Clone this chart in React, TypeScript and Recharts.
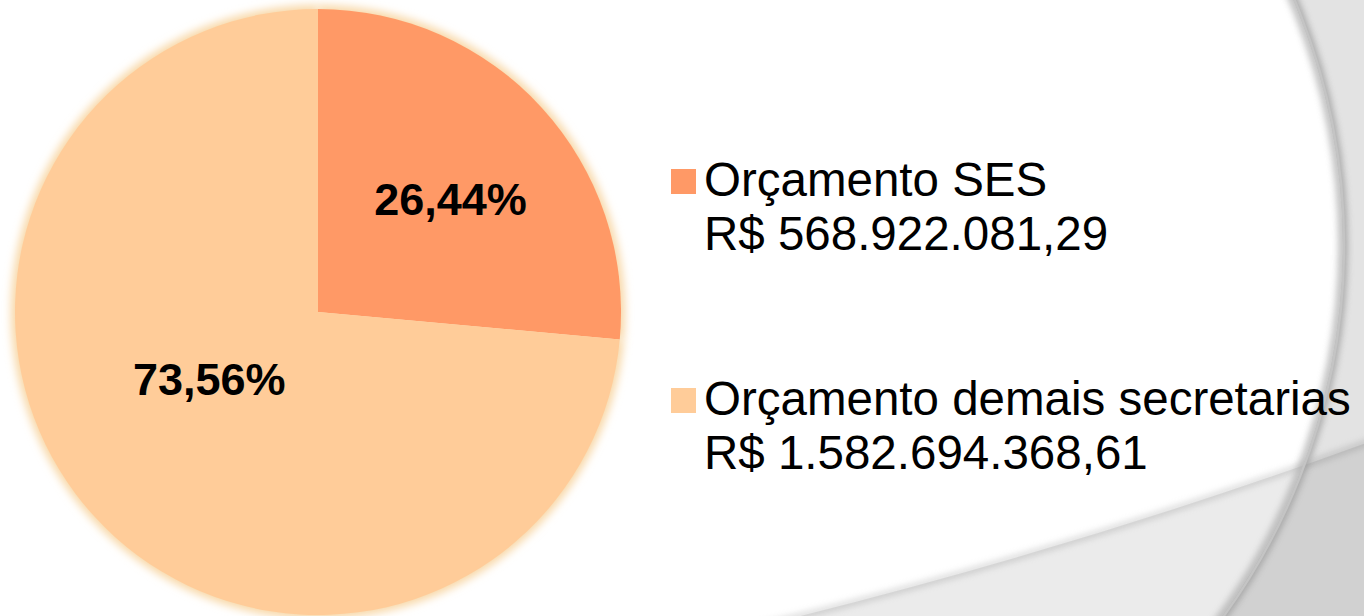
import React from 'react';
import { PieChart, Pie, Cell, Legend } from 'recharts';

const categories = ['Orçamento SES', 'Orçamento demais secretarias'];
const budgetValues = [568922081.29, 1582694368.61];
const valueLabels = ['R$ 568.922.081,29', 'R$ 1.582.694.368,61'];
const sliceColors = ['#FF9966', '#FFCC99'];

const data = categories.map((name, i) => ({ name, value: budgetValues[i] }));

const W = 1364;
const H = 616;
const labelRadiusFactor = [0.57, 0.45];
const labelOffsets = [
  [5, 4],
  [-8, -24],
];

const renderLabel = (props: any) => {
  const { cx, cy, midAngle, outerRadius, percent, index } = props;
  const RAD = Math.PI / 180;
  const r = outerRadius * labelRadiusFactor[index];
  const x = cx + r * Math.cos(-midAngle * RAD) + labelOffsets[index][0];
  const y = cy + r * Math.sin(-midAngle * RAD) + labelOffsets[index][1];
  const txt = (percent * 100).toFixed(2).replace('.', ',') + '%';
  return (
    <text
      x={x}
      y={y}
      textAnchor="middle"
      dominantBaseline="central"
      fill="#000"
      fontFamily="'Liberation Sans', Arial, sans-serif"
      fontWeight="bold"
      fontSize={45}
    >
      {txt}
    </text>
  );
};

const renderLegend = (props: any) => {
  const payload = (props.payload || []).filter((p: any) => p.type !== 'none');
  return (
    <div style={{ fontFamily: "'Liberation Sans', Arial, sans-serif", fontSize: 47.5, lineHeight: '54px', color: '#000' }}>
      {payload.map((entry: any, i: number) => (
        <div key={i} style={{ display: 'flex', alignItems: 'flex-start', marginBottom: i === 0 ? 111 : 0 }}>
          <div style={{ width: 25, height: 25, background: entry.color, marginTop: 16, marginRight: 8, flex: 'none' }} />
          <div style={{ whiteSpace: 'nowrap' }}>
            <div>{entry.value}</div>
            <div>{valueLabels[i]}</div>
          </div>
        </div>
      ))}
    </div>
  );
};

const Background = () => (
  <svg width={W} height={H} style={{ position: 'absolute', left: 0, top: 0 }}>
    <defs>
      <filter id="pieGlow" x="-10%" y="-10%" width="120%" height="120%">
        <feGaussianBlur stdDeviation="4" />
      </filter>
      <filter id="edgeBlur" x="-20%" y="-20%" width="140%" height="140%">
        <feGaussianBlur stdDeviation="3" />
      </filter>
      <clipPath id="rightSide">
        <rect x={900} y={0} width={W - 900} height={H} />
      </clipPath>
      <clipPath id="outsideCircle">
        <path
          fillRule="evenodd"
          d={`M900 0 H${W} V${H} H900 Z M${712 - 631} 245 a631 631 0 1 0 1262 0 a631 631 0 1 0 -1262 0 Z`}
        />
      </clipPath>
    </defs>
    <rect x={0} y={0} width={W} height={H} fill="#ffffff" />
    <path d={`M760 ${H + 10} Q1080 548 ${W + 10} 440`} fill="none" stroke="#c4c4c4" strokeWidth={6} filter="url(#edgeBlur)" opacity={0.6} />
    <path d={`M760 ${H + 10} Q1080 548 ${W + 10} 440 L${W + 10} ${H + 10} Z`} fill="rgba(0,0,0,0.08)" />
    <g clipPath="url(#rightSide)">
      <circle cx={712} cy={245} r={631} fill="none" stroke="#aaaaaa" strokeWidth={10} filter="url(#edgeBlur)" opacity={0.7} />
    </g>
    <rect x={900} y={0} width={W - 900} height={H} fill="rgba(0,0,0,0.11)" clipPath="url(#outsideCircle)" />
    <g clipPath="url(#rightSide)">
      <circle cx={712} cy={245} r={632} fill="none" stroke="#c4c4c4" strokeWidth={2.5} />
    </g>
  </svg>
);

export default function App() {
  return (
    <div style={{ position: 'absolute', left: 0, top: 0, width: W, height: H, overflow: 'hidden', background: '#fff' }}>
      <Background />
      <div style={{ position: 'absolute', left: 0, top: 0 }}>
        <PieChart width={W} height={H} margin={{ top: 0, right: 0, bottom: 0, left: 0 }}>
          <Pie
            data={data}
            dataKey="value"
            nameKey="name"
            cx={318}
            cy={312}
            outerRadius={307}
            startAngle={90}
            endAngle={-270}
            stroke="none"
            legendType="none"
            isAnimationActive={false}
          >
            {data.map((_, i) => (
              <Cell key={i} fill="#F8D8A8" filter="url(#pieGlow)" />
            ))}
          </Pie>
          <Pie
            data={data}
            dataKey="value"
            nameKey="name"
            cx={318}
            cy={312}
            outerRadius={303}
            startAngle={90}
            endAngle={-270}
            stroke="none"
            label={renderLabel}
            labelLine={false}
            isAnimationActive={false}
          >
            {data.map((_, i) => (
              <Cell key={i} fill={sliceColors[i]} />
            ))}
          </Pie>
          <Legend
            content={renderLegend}
            wrapperStyle={{ position: 'absolute', left: 671, top: 153, width: 693 }}
          />
        </PieChart>
      </div>
    </div>
  );
}
